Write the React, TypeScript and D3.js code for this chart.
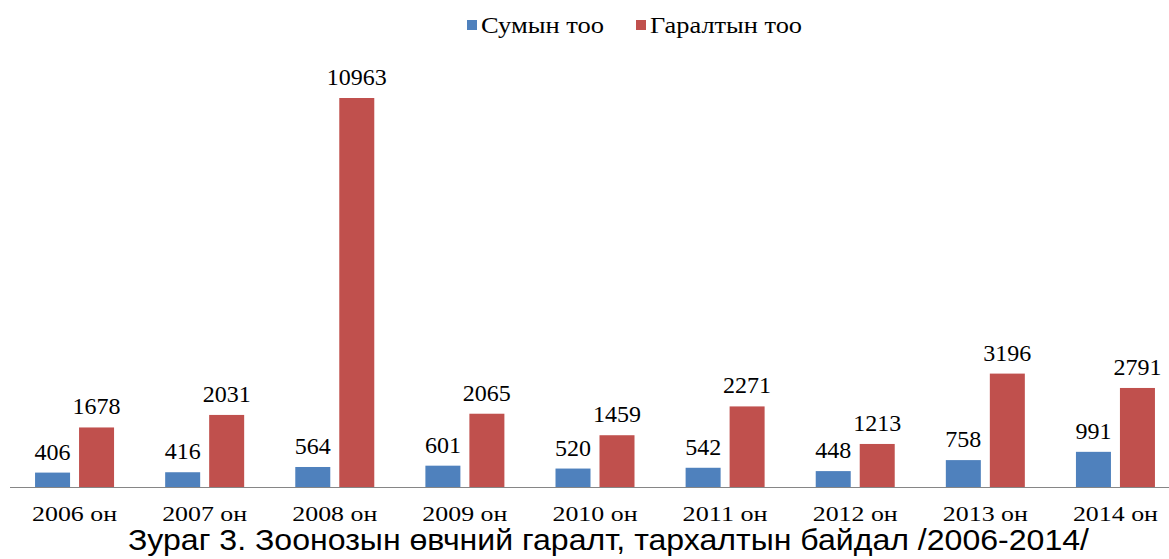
import React from 'react';
import * as d3 from 'd3';

const YEARS = ['2006 он', '2007 он', '2008 он', '2009 он', '2010 он', '2011 он', '2012 он', '2013 он', '2014 он'];
const SUM_COUNT = [406, 416, 564, 601, 520, 542, 448, 758, 991];
const OUTBREAK_COUNT = [1678, 2031, 10963, 2065, 1459, 2271, 1213, 3196, 2791];
const SERIES = ['Сумын тоо', 'Гаралтын тоо'];
const COLORS = ['#4F81BD', '#C0504D'];
const TITLE = 'Зураг 3. Зоонозын өвчний гаралт, тархалтын байдал /2006-2014/';

const W = 1169;
const H = 559;
const BASE_Y = 487;
const SERIF = '"Liberation Serif", "Times New Roman", serif';
const SANS = '"Liberation Sans", Arial, sans-serif';

export default function App() {
  const x = d3.scaleBand<string>().domain(YEARS).range([9.5, 1180.5]).padding(0);
  const groupW = 79;
  const inner = d3.scaleBand<number>().domain([0, 1]).range([0, groupW]).paddingInner(0.2045).paddingOuter(0);
  const y = d3.scaleLinear().domain([0, 12000]).range([BASE_Y, BASE_Y - 12000 * (389 / 10963)]);

  const series = [SUM_COUNT, OUTBREAK_COUNT];

  return (
    <div style={{ position: 'fixed', left: 0, top: 0 }}>
      <svg width={W} height={H} style={{ display: 'block', background: '#fff' }}>
        {/* legend */}
        <g>
          <rect x={467} y={20} width={10} height={10} fill={COLORS[0]} />
          <text x={481} y={33} fontFamily={SERIF} fontSize={24} fill="#000" textLength={123} lengthAdjust="spacingAndGlyphs">{SERIES[0]}</text>
          <rect x={636} y={20} width={10} height={10} fill={COLORS[1]} />
          <text x={650} y={33} fontFamily={SERIF} fontSize={24} fill="#000" textLength={152} lengthAdjust="spacingAndGlyphs">{SERIES[1]}</text>
        </g>

        {/* bars */}
        {YEARS.map((yr) => {
          const gx = (x(yr) ?? 0) + (x.bandwidth() - groupW) / 2;
          return (
            <g key={yr} transform={`translate(${gx},0)`}>
              {series.map((vals, si) => {
                const v = vals[YEARS.indexOf(yr)];
                const bx = inner(si) ?? 0;
                const bw = inner.bandwidth();
                return (
                  <g key={si}>
                    <rect x={bx} y={y(v)} width={bw} height={BASE_Y - y(v)} fill={COLORS[si]} />
                    <text
                      x={bx + bw / 2}
                      y={y(v) - 13}
                      textAnchor="middle"
                      fontFamily={SERIF}
                      fontSize={24}
                      fill="#000"
                    >
                      {v}
                    </text>
                  </g>
                );
              })}
            </g>
          );
        })}

        {/* axis */}
        <line x1={10} x2={W} y1={BASE_Y + 0.5} y2={BASE_Y + 0.5} stroke="#868686" strokeWidth={1} />
        {YEARS.map((yr) => (
          <text
            key={yr}
            x={(x(yr) ?? 0) + x.bandwidth() / 2}
            y={521}
            textAnchor="middle"
            fontFamily={SERIF}
            fontSize={22}
            fill="#000"
            textLength={85}
            lengthAdjust="spacingAndGlyphs"
          >
            {yr}
          </text>
        ))}

        {/* caption */}
        <text
          x={608.5}
          y={550}
          textAnchor="middle"
          fontFamily={SANS}
          fontSize={29}
          fill="#000"
          textLength={961}
          lengthAdjust="spacingAndGlyphs"
        >
          {TITLE}
        </text>
      </svg>
    </div>
  );
}
